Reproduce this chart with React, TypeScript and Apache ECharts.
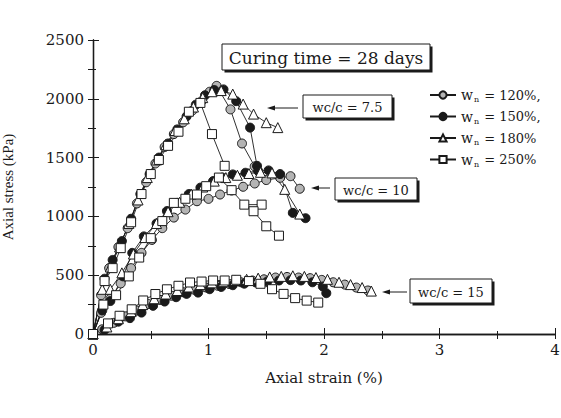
import React, { useEffect, useRef } from "react";
import * as echarts from "echarts";

// ---- data (axial strain %, axial stress kPa) ----
const legendNames = ["w_n = 120%,", "w_n = 150%,", "w_n = 180%", "w_n = 250%"];
const xTicks = [0, 1, 2, 3, 4];
const yTicks = [0, 500, 1000, 1500, 2000, 2500];

// wc/c = 7.5
const c120_75 = [[0,0],[0.07,330],[0.14,560],[0.22,740],[0.3,900],[0.38,1110],[0.46,1290],[0.54,1450],[0.62,1590],[0.7,1700],[0.78,1800],[0.86,1900],[0.94,1980],[1.01,2060],[1.07,2110],[1.19,1910],[1.29,1620],[1.4,1425]];
const c150_75 = [[0,0],[0.1,470],[0.17,630],[0.25,790],[0.33,980],[0.41,1190],[0.49,1360],[0.57,1500],[0.65,1620],[0.73,1740],[0.81,1850],[0.89,1950],[0.97,2030],[1.05,2075],[1.13,2080],[1.24,1980],[1.36,1755],[1.42,1430]];
const c180_75 = [[0,0],[0.08,380],[0.15,570],[0.23,740],[0.31,940],[0.39,1140],[0.47,1330],[0.55,1480],[0.63,1610],[0.71,1730],[0.79,1830],[0.87,1930],[0.95,2010],[1.03,2060],[1.11,2070],[1.21,2040],[1.3,1955],[1.39,1870],[1.5,1797],[1.6,1755]];
const c250_75 = [[0,0],[0.1,450],[0.17,560],[0.24,730],[0.33,950],[0.42,1190],[0.5,1360],[0.57,1480],[0.65,1600],[0.74,1720],[0.83,1890],[0.93,1965],[1.03,1700],[1.14,1430]];

// wc/c = 10
const c120_10 = [[0,0],[0.07,180],[0.15,300],[0.24,430],[0.33,560],[0.42,690],[0.51,800],[0.6,900],[0.7,990],[0.8,1058],[0.9,1129],[1.0,1149],[1.1,1186],[1.2,1220],[1.3,1252],[1.4,1280],[1.5,1309],[1.62,1328],[1.71,1342],[1.79,1235]];
const c150_10 = [[0,0],[0.08,200],[0.15,280],[0.26,490],[0.34,690],[0.44,830],[0.55,940],[0.64,1045],[0.73,1115],[0.83,1190],[0.93,1245],[1.04,1300],[1.12,1330],[1.21,1357],[1.32,1371],[1.43,1386],[1.52,1391],[1.62,1360],[1.73,1030],[1.84,985]];
const c180_10 = [[0,0],[0.15,380],[0.25,520],[0.35,680],[0.45,820],[0.55,940],[0.65,1040],[0.75,1120],[0.85,1190],[0.95,1250],[1.05,1300],[1.15,1330],[1.25,1350],[1.35,1365],[1.45,1375],[1.55,1370],[1.66,1230],[1.79,1020]];
const c250_10 = [[0,0],[0.09,250],[0.2,330],[0.31,490],[0.4,650],[0.5,815],[0.6,960],[0.7,1115],[0.8,1150],[0.9,1186],[0.98,1257],[1.09,1330],[1.2,1223],[1.31,1100],[1.46,1100],[1.39,1044],[1.5,916],[1.61,836]];

// wc/c = 15
const c120_15 = [[0,0],[0.08,40],[0.18,95],[0.28,150],[0.38,200],[0.48,255],[0.58,290],[0.68,325],[0.78,355],[0.88,375],[0.98,395],[1.08,410],[1.18,425],[1.28,440],[1.38,455],[1.48,465],[1.58,480],[1.68,485],[1.78,480],[1.88,475],[1.98,460],[2.08,440],[2.18,420],[2.28,395],[2.38,370]];
const c150_15 = [[0,0],[0.1,35],[0.22,105],[0.32,135],[0.42,182],[0.52,240],[0.62,276],[0.72,313],[0.81,341],[0.91,352],[1.01,381],[1.11,400],[1.21,415],[1.31,428],[1.41,438],[1.51,448],[1.61,455],[1.71,458],[1.8,455],[1.9,440],[1.99,404],[2.02,347]];
const c180_15 = [[0,0],[0.12,60],[0.22,130],[0.33,190],[0.43,250],[0.53,300],[0.63,340],[0.73,370],[0.83,400],[0.93,420],[1.03,435],[1.13,445],[1.23,455],[1.33,465],[1.43,475],[1.53,485],[1.63,490],[1.73,495],[1.83,490],[1.93,480],[2.03,465],[2.13,440],[2.23,420],[2.33,395],[2.41,365]];
const c250_15 = [[0,0],[0.13,90],[0.23,155],[0.335,210],[0.435,285],[0.54,340],[0.64,380],[0.74,410],[0.84,438],[0.94,446],[1.04,455],[1.14,455],[1.24,461],[1.35,450],[1.45,427],[1.55,381],[1.65,341],[1.75,305],[1.85,284],[1.95,267]];

const INK = "#1a1a1a";
const SERIF = "DejaVu Serif";

const markerStyles = [
  { symbol: "circle", itemStyle: { color: "#b4b4b4", borderColor: INK, borderWidth: 1 } },
  { symbol: "circle", itemStyle: { color: INK, borderColor: INK, borderWidth: 1 } },
  { symbol: "triangle", itemStyle: { color: "#ffffff", borderColor: INK, borderWidth: 1 } },
  { symbol: "rect", itemStyle: { color: "#ffffff", borderColor: INK, borderWidth: 1 } },
];

const groups = [
  [c120_75, c150_75, c180_75, c250_75],
  [c120_10, c150_10, c180_10, c250_10],
  [c120_15, c150_15, c180_15, c250_15],
];

function boxWithShadow(x: number, y: number, w: number, h: number, text: string, fontSize: number) {
  return [
    { type: "rect", shape: { x: x + 2.5, y: y + 2.5, width: w, height: h }, style: { fill: INK }, z: 100 },
    { type: "rect", shape: { x, y, width: w, height: h }, style: { fill: "#fff", stroke: INK, lineWidth: 1 }, z: 101 },
    {
      type: "text", x: x + w / 2, y: y + h / 2 + 1, z: 102,
      style: { text, fill: INK, font: `${fontSize}px "${SERIF}"`, align: "center", verticalAlign: "middle" },
    },
  ];
}

function arrow(x1: number, x2: number, y: number) {
  return [
    { type: "line", shape: { x1: x1 + 4, y1: y, x2, y2: y }, style: { stroke: INK, lineWidth: 1 }, z: 100 },
    { type: "polygon", shape: { points: [[x1, y], [x1 + 8, y - 2.5], [x1 + 8, y + 2.5]] }, style: { fill: INK }, z: 100 },
  ];
}

export default function App() {
  const ref = useRef<HTMLDivElement>(null);
  useEffect(() => {
    if (!ref.current) return;
    const chart = echarts.init(ref.current, null, { renderer: "svg" });
    const series: any[] = [];
    groups.forEach((g) => {
      g.forEach((data, i) => {
        series.push({
          type: "line",
          name: legendNames[i],
          data,
          symbol: markerStyles[i].symbol,
          symbolSize: i === 2 ? 10 : 9,
          itemStyle: markerStyles[i].itemStyle,
          lineStyle: { color: INK, width: 0.9 },
          xAxisIndex: 0,
          yAxisIndex: 0,
        });
      });
    });
    const axisLine = { show: true, lineStyle: { color: INK, width: 1.3 } };
    chart.setOption({
      animation: false,
      backgroundColor: "#ffffff",
      grid: { left: 93, right: 6, top: 40, bottom: 84, containLabel: false, outerBoundsMode: "none" },
      legend: {
        data: legendNames,
        orient: "vertical",
        left: 424,
        top: 83,
        itemWidth: 26,
        itemHeight: 9,
        itemGap: 6,
        selectedMode: false,
        formatter: (name: string) => `{w|w}{n|n}{t|${name.slice(3)}}`,
        textStyle: {
          color: INK,
          fontFamily: SERIF,
          fontSize: 13,
          rich: {
            w: { fontFamily: SERIF, fontSize: 14, color: INK, lineHeight: 17 },
            n: { fontFamily: SERIF, fontSize: 8, color: INK, lineHeight: 17, verticalAlign: "bottom", padding: [0, 1, 0, 1] },
            t: { fontFamily: SERIF, fontSize: 13, color: INK, lineHeight: 17 },
          },
        },
      },
      xAxis: [
        {
          type: "value", min: xTicks[0], max: xTicks[xTicks.length - 1], interval: 1, position: "bottom",
          axisLine,
          axisTick: { show: true, inside: true, length: 6, lineStyle: { color: INK } },
          minorTick: { show: true, splitNumber: 2, length: 3, lineStyle: { color: INK } },
          splitLine: { show: false },
          axisLabel: { margin: 8, fontFamily: SERIF, fontSize: 15, color: INK, formatter: (v: number) => String(v) },
          name: "Axial strain (%)", nameLocation: "middle", nameGap: 36,
          nameTextStyle: { fontFamily: SERIF, fontSize: 15, color: INK },
        },
        {
          type: "value", min: 0, max: 4, interval: 0.5, position: "top",
          axisLine,
          axisTick: { show: true, inside: true, length: 5, lineStyle: { color: INK } },
          axisLabel: { show: false }, splitLine: { show: false },
        },
      ],
      yAxis: [
        {
          type: "value", min: yTicks[0], max: yTicks[yTicks.length - 1], interval: 500, position: "left",
          axisLine,
          axisTick: { show: true, inside: true, length: 6, lineStyle: { color: INK } },
          minorTick: { show: true, splitNumber: 2, length: 3, lineStyle: { color: INK } },
          splitLine: { show: false },
          axisLabel: { margin: 9, fontFamily: SERIF, fontSize: 15, color: INK, formatter: (v: number) => String(v) },
          name: "Axial stress (kPa)", nameLocation: "middle", nameGap: 78, nameRotate: 90,
          nameTextStyle: { fontFamily: "Liberation Serif", fontSize: 15, color: INK },
        },
        {
          type: "value", min: 0, max: 2500, interval: 250, position: "right",
          axisLine,
          axisTick: { show: true, inside: true, length: 5, lineStyle: { color: INK } },
          axisLabel: { show: false }, splitLine: { show: false },
        },
      ],
      series,
      graphic: [
        ...boxWithShadow(222, 44, 208, 26, "Curing time = 28 days", 17),
        ...boxWithShadow(303, 95, 89, 23, "wc/c = 7.5", 13),
        ...arrow(267, 298, 108),
        ...boxWithShadow(335, 178, 82, 22, "wc/c = 10", 13),
        ...arrow(311, 330, 188),
        ...boxWithShadow(410, 279, 82, 24, "wc/c = 15", 13),
        ...arrow(382, 407, 292),
      ],
    });
    return () => chart.dispose();
  }, []);
  return (
    <div
      ref={ref}
      style={{ position: "fixed", left: 0, top: 0, width: 561, height: 418, background: "#fff" }}
    />
  );
}
